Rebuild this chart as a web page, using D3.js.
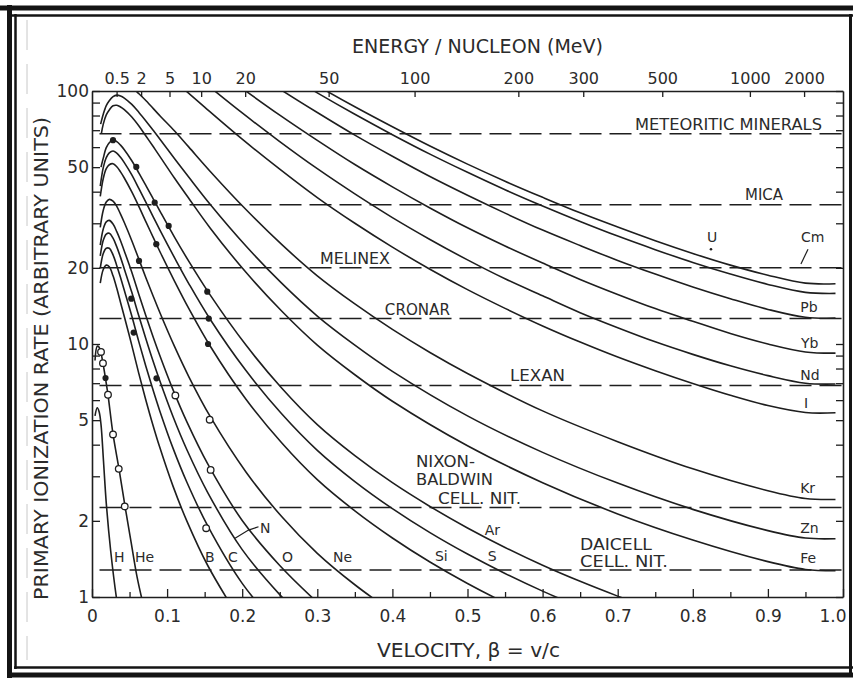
<!DOCTYPE html>
<html>
<head>
<meta charset="utf-8">
<script src="https://cdnjs.cloudflare.com/ajax/libs/d3/7.8.5/d3.min.js"></script>
<style>
html,body{margin:0;padding:0;background:#fff;}
svg{display:block;}
text{font-family:"DejaVu Sans","Liberation Sans",sans-serif;fill:#2b2b2b;}
</style>
</head>
<body>
<svg id="chart" width="853" height="680"></svg>
<script>
// ---------------- DATA ----------------
const velocityTicks = [0,0.1,0.2,0.3,0.4,0.5,0.6,0.7,0.8,0.9,1.0];
const velocityMinorTicks = [0.05,0.15,0.25,0.35,0.45,0.55,0.65,0.75,0.85,0.95];
const energyTicks = [0.5,2,5,10,20,50,100,200,300,500,1000,2000];   // MeV / nucleon
const rateTicks = [1,2,3,4,5,6,7,8,9,10,20,30,40,50,60,70,80,90,100];
const rateTickLabels = [1,2,5,10,20,50,100];

const ionNames = ["H","He","B","C","N","O","Ne","Si","S","Ar","Fe","Zn","Kr","I","Nd","Yb","Pb","U","Cm"];

// [beta, primary ionization rate]
const rateH  = [[0.004,5.2],[0.007,5.6],[0.0095,5.4],[0.012,4.8],[0.0153,3.45],[0.019,2.35],[0.0249,1.52],[0.0324,1.0],[0.036,0.86]];
const rateHe = [[0.004,8.6],[0.007,9.8],[0.0095,9.7],[0.012,9.2],[0.0146,8.4],[0.018,7.3],[0.0213,6.3],[0.028,4.4],[0.036,3.2],[0.044,2.28],[0.052,1.65],[0.06,1.2],[0.0665,0.98],[0.072,0.84]];
const rateB  = [[0.011,17.4],[0.015,19.7],[0.019,20.5],[0.023,20.2],[0.028,18.6],[0.033,16.6],[0.038,14.6],[0.043,12.85],[0.053,9.88],[0.0622,7.67],[0.0714,6.05],[0.0806,4.84],[0.0898,3.94],[0.1081,2.73],[0.1265,1.99],[0.1541,1.332],[0.2,0.787]];
const rateC  = [[0.011,19.9],[0.015,22.8],[0.019,23.9],[0.023,23.9],[0.028,22.5],[0.033,20.4],[0.038,18.3],[0.043,16.3],[0.053,12.9],[0.0622,10.24],[0.0714,8.22],[0.0806,6.68],[0.0898,5.49],[0.1081,3.86],[0.1265,2.835],[0.1541,1.91],[0.2,1.132],[0.25,0.751]];
const rateN  = [[0.011,22.3],[0.015,25.7],[0.019,27.2],[0.023,27.4],[0.028,26.2],[0.033,24.2],[0.038,22.0],[0.043,19.8],[0.053,16.0],[0.0622,12.95],[0.0714,10.56],[0.0806,8.68],[0.0898,7.22],[0.1081,5.145],[0.1265,3.81],[0.1541,2.587],[0.2,1.539],[0.25,1.022],[0.3,0.729]];
const rateO  = [[0.011,24.6],[0.015,28.5],[0.019,30.4],[0.023,30.8],[0.028,29.8],[0.033,27.8],[0.038,25.6],[0.043,23.3],[0.053,19.2],[0.0622,15.77],[0.0714,13.02],[0.0806,10.83],[0.0898,9.09],[0.1081,6.57],[0.1265,4.91],[0.1541,3.357],[0.2,2.007],[0.25,1.332],[0.3,0.952]];
const rateNe = [[0.011,28.9],[0.015,33.8],[0.019,36.4],[0.023,37.3],[0.028,36.7],[0.033,35.0],[0.038,32.6],[0.043,30.2],[0.053,25.6],[0.0625,21.6],[0.072,18.2],[0.0815,15.45],[0.091,13.17],[0.11,9.76],[0.129,7.42],[0.1575,5.16],[0.205,3.12],[0.2525,2.08],[0.3,1.488],[0.35,1.118],[0.4,0.873]];
const rateSi = [[0.011,38.3],[0.015,45.1],[0.019,49.3],[0.023,51.1],[0.028,51.6],[0.033,50.2],[0.038,47.9],[0.043,45.3],[0.053,39.9],[0.0625,34.9],[0.072,30.3],[0.0815,26.4],[0.091,23.0],[0.11,17.7],[0.129,13.8],[0.1575,9.8],[0.205,6.05],[0.2525,4.07],[0.3,2.91],[0.35,2.19],[0.4,1.711],[0.45,1.375],[0.5,1.131],[0.55,0.9485],[0.6,0.808]];
const rateS  = [[0.011,42.1],[0.015,49.8],[0.019,54.5],[0.023,56.9],[0.028,57.9],[0.033,56.8],[0.038,54.7],[0.043,52.1],[0.053,46.6],[0.0625,41.1],[0.072,36.2],[0.0815,31.8],[0.091,28.0],[0.11,21.9],[0.129,17.3],[0.1575,12.5],[0.205,7.85],[0.2525,5.3],[0.3,3.8],[0.35,2.86],[0.4,2.235],[0.45,1.796],[0.5,1.478],[0.55,1.239],[0.6,1.055],[0.65,0.911]];
const rateAr = [[0.012,50.0],[0.015,54.3],[0.019,59.7],[0.023,62.4],[0.028,64.0],[0.033,63.1],[0.038,61.1],[0.043,58.6],[0.053,53.0],[0.0625,47.4],[0.072,42.2],[0.0815,37.5],[0.091,33.3],[0.11,26.4],[0.129,21.2],[0.1575,15.6],[0.205,9.9],[0.2525,6.7],[0.3,4.8],[0.35,3.62],[0.4,2.83],[0.45,2.28],[0.5,1.875],[0.55,1.57],[0.6,1.335],[0.65,1.153],[0.7,1.008],[0.75,0.89]];
const rateFe = [[0.0125,68.0],[0.015,74.0],[0.019,80.5],[0.023,84.2],[0.028,87.4],[0.033,87.8],[0.038,86.5],[0.043,84.4],[0.053,78.9],[0.0625,72.7],[0.072,66.2],[0.0815,60.3],[0.091,54.8],[0.11,45.2],[0.129,37.6],[0.1575,28.7],[0.205,19.2],[0.2525,13.5],[0.3,9.9],[0.35,7.56],[0.4,5.94],[0.5,3.96],[0.6,2.83],[0.7,2.13],[0.8,1.68],[0.9,1.38],[0.95,1.285],[0.99,1.27]];
const rateZn = [[0.0115,74.0],[0.015,81.0],[0.019,87.5],[0.023,91.5],[0.028,95.0],[0.033,96.3],[0.038,95.6],[0.043,93.8],[0.053,88.5],[0.0625,82.3],[0.072,76.0],[0.0815,69.9],[0.091,64.2],[0.11,54.0],[0.129,45.6],[0.1575,35.6],[0.205,24.4],[0.2525,17.4],[0.3,12.9],[0.35,9.9],[0.4,7.8],[0.5,5.2],[0.6,3.73],[0.7,2.82],[0.8,2.22],[0.9,1.83],[0.95,1.71],[0.99,1.70]];
const rateKr = [[0.043,108],[0.053,103.3],[0.0625,97.5],[0.072,91.5],[0.091,79.5],[0.11,69.5],[0.129,60.0],[0.1575,48.1],[0.205,34.0],[0.2525,24.75],[0.3,18.6],[0.35,14.4],[0.4,11.42],[0.45,9.26],[0.5,7.65],[0.6,5.44],[0.7,4.11],[0.8,3.21],[0.9,2.63],[0.95,2.45],[0.99,2.43]];
const rateI  = [[0.08,130.4],[0.1,116.1],[0.12,103.2],[0.15,86.3],[0.2,64.5],[0.25,49.1],[0.3,37.9],[0.35,30.0],[0.4,24.15],[0.45,19.75],[0.5,16.4],[0.55,13.83],[0.6,11.79],[0.65,10.18],[0.7,8.88],[0.75,7.84],[0.8,6.98],[0.85,6.27],[0.9,5.71],[0.95,5.36],[0.99,5.35]];
const rateNd = [[0.1,142],[0.12,127.8],[0.15,107.8],[0.2,81.9],[0.25,63.1],[0.3,49.3],[0.35,39.2],[0.4,31.6],[0.45,25.9],[0.5,21.5],[0.55,18.1],[0.6,15.5],[0.65,13.3],[0.7,11.6],[0.75,10.2],[0.8,9.1],[0.85,8.2],[0.9,7.5],[0.95,7.0],[0.99,6.95]];
const rateYb = [[0.15,131.6],[0.2,102.4],[0.25,80.3],[0.3,63.8],[0.35,51.2],[0.4,41.8],[0.45,34.5],[0.5,28.8],[0.55,24.4],[0.6,20.9],[0.65,18.0],[0.7,15.7],[0.75,13.8],[0.8,12.3],[0.85,11.0],[0.9,10.0],[0.95,9.3],[0.99,9.2]];
const ratePb = [[0.2,127.5],[0.25,101.8],[0.3,82.2],[0.35,66.9],[0.4,55.2],[0.45,45.9],[0.5,38.7],[0.55,32.9],[0.6,28.2],[0.65,24.5],[0.7,21.4],[0.75,18.9],[0.8,16.8],[0.85,15.1],[0.9,13.7],[0.95,12.75],[0.99,12.65]];
const rateU  = [[0.25,120.5],[0.3,98.3],[0.35,80.9],[0.4,67.2],[0.45,56.3],[0.5,47.7],[0.55,40.7],[0.6,35.1],[0.65,30.5],[0.7,26.7],[0.75,23.6],[0.8,21.0],[0.85,18.9],[0.9,17.2],[0.95,16.0],[0.99,15.85]];
const rateCm = [[0.25,128.1],[0.3,104.9],[0.35,86.6],[0.4,72.2],[0.45,60.6],[0.5,51.4],[0.55,44.0],[0.6,38.0],[0.65,33.0],[0.7,29.0],[0.75,25.6],[0.8,22.8],[0.85,20.5],[0.9,18.7],[0.95,17.4],[0.99,17.3]];

// experimental points [beta, rate]
const filledPoints = [[0.028,63.9],[0.059,50.1],[0.0835,36.2],[0.1021,29.3],[0.0856,24.8],[0.0626,21.3],[0.1535,16.1],[0.1554,12.6],[0.0523,15.1],[0.0555,11.1],[0.1545,10.0],[0.0859,7.32],[0.018,7.34]];
const openPoints = [[0.012,9.3],[0.0146,8.4],[0.0213,6.3],[0.028,4.39],[0.0356,3.21],[0.0436,2.28],[0.111,6.26],[0.1567,5.02],[0.158,3.18],[0.152,1.87]];

// detector thresholds
const thresholdNames = ["METEORITIC MINERALS","MICA","MELINEX","CRONAR","LEXAN","NIXON-BALDWIN CELL. NIT.","DAICELL CELL. NIT."];
const thresholdRates = [67.8,35.5,20,12.6,6.86,2.26,1.28];

// ---------------- DRAWING ----------------
const curves = {H:rateH,He:rateHe,B:rateB,C:rateC,N:rateN,O:rateO,Ne:rateNe,Si:rateSi,S:rateS,Ar:rateAr,
  Fe:rateFe,Zn:rateZn,Kr:rateKr,I:rateI,Nd:rateNd,Yb:rateYb,Pb:ratePb,U:rateU,Cm:rateCm};

const svg = d3.select("#chart");
const ink = "#1e1e1e";
const textInk = "#2b2b2b";
const x = d3.scaleLinear().domain([0,1]).range([92,843]);
const y = d3.scaleLog().domain([1,100]).range([597,91]);
const betaFromEnergy = T => { const g = 1 + T/931.5; return Math.sqrt(1 - 1/(g*g)); };

svg.append("rect").attr("width",853).attr("height",680).attr("fill","#fff");

// scanned-page double frame
const frame = svg.append("g").attr("stroke","#141414").attr("fill","none");
frame.append("line").attr("x1",0).attr("x2",853).attr("y1",8).attr("y2",8).attr("stroke-width",5);
frame.append("line").attr("x1",12).attr("x2",853).attr("y1",15.5).attr("y2",15.5).attr("stroke-width",2.5);
frame.append("line").attr("x1",9.5).attr("x2",9.5).attr("y1",5).attr("y2",678).attr("stroke-width",5);
frame.append("line").attr("x1",15.5).attr("x2",15.5).attr("y1",14).attr("y2",669).attr("stroke-width",2.5);
frame.append("line").attr("x1",7).attr("x2",853).attr("y1",675).attr("y2",675).attr("stroke-width",5);
frame.append("line").attr("x1",14).attr("x2",853).attr("y1",667.5).attr("y2",667.5).attr("stroke-width",2.5);
frame.append("line").attr("x1",850.5).attr("x2",850.5).attr("y1",14).attr("y2",675).attr("stroke-width",3);
svg.append("line").attr("x1",27).attr("x2",27).attr("y1",20).attr("y2",660)
  .attr("stroke","#c8c8c8").attr("stroke-width",1).attr("stroke-dasharray","30,14");

function styleAxis(g, fs){
  g.attr("font-size",fs).attr("font-family",null);
  g.selectAll("path.domain").attr("stroke",ink).attr("stroke-width",1.6);
  g.selectAll(".tick line").attr("stroke",ink).attr("stroke-width",1.3);
  g.selectAll(".tick text").attr("fill",textInk);
}

// bottom axis
const gx = svg.append("g").attr("transform","translate(0,597)")
  .call(d3.axisBottom(x).tickValues(velocityTicks)
    .tickFormat(d => d === 0 ? "0" : d.toFixed(1))
    .tickSizeInner(-8).tickSizeOuter(0).tickPadding(13));
styleAxis(gx,17);
// keep the last label ("1.0") inside the page, just left of the frame line
gx.selectAll(".tick text").filter(d => d === 1).attr("text-anchor","end").attr("dx","3");
const gx2 = svg.append("g").attr("transform","translate(0,597)")
  .call(d3.axisBottom(x).tickValues(velocityMinorTicks).tickFormat("").tickSizeInner(-5).tickSizeOuter(0));
styleAxis(gx2,10); gx2.select("path.domain").remove();

// top axis: energy per nucleon
const gt = svg.append("g").attr("transform","translate(0,91)")
  .call(d3.axisTop(x).tickValues(energyTicks.map(betaFromEnergy))
    .tickFormat((d,i) => String(energyTicks[i]))
    .tickSizeInner(-6).tickSizeOuter(0).tickPadding(7));
styleAxis(gt,16);

// left axis
const gy = svg.append("g").attr("transform","translate(92,0)")
  .call(d3.axisLeft(y).tickValues(rateTicks)
    .tickFormat(d => rateTickLabels.includes(d) ? String(d) : "")
    .tickSizeInner(-8).tickSizeOuter(0).tickPadding(3));
styleAxis(gy,17);

// right axis
const gr = svg.append("g").attr("transform","translate(843,0)")
  .call(d3.axisRight(y).tickValues(rateTicks).tickFormat("").tickSizeInner(-7).tickSizeOuter(0));
styleAxis(gr,10);

// clip
svg.append("clipPath").attr("id","plotclip").append("rect")
  .attr("x",x(0)).attr("y",y(100)).attr("width",x(1)-x(0)).attr("height",y(1)-y(100));
const plot = svg.append("g").attr("clip-path","url(#plotclip)");

// threshold dashed lines
plot.selectAll("line.thr").data(thresholdRates).join("line").attr("class","thr")
  .attr("x1",x(0.01)).attr("x2",x(1)).attr("y1",d=>y(d)).attr("y2",d=>y(d))
  .attr("stroke",ink).attr("stroke-width",1.5).attr("stroke-dasharray","22,8");

// ion curves
const line = d3.line().x(d=>x(d[0])).y(d=>y(d[1])).curve(d3.curveCatmullRom.alpha(0.5));
plot.selectAll("path.ion").data(ionNames).join("path").attr("class","ion")
  .attr("d", n => line(curves[n]))
  .attr("fill","none").attr("stroke",ink).attr("stroke-width",1.6);

// experimental points
plot.selectAll("circle.f").data(filledPoints).join("circle").attr("class","f")
  .attr("cx",d=>x(d[0])).attr("cy",d=>y(d[1])).attr("r",3.1).attr("fill",ink);
plot.selectAll("circle.o").data(openPoints).join("circle").attr("class","o")
  .attr("cx",d=>x(d[0])).attr("cy",d=>y(d[1])).attr("r",3.3)
  .attr("fill","#fff").attr("stroke",ink).attr("stroke-width",1.3);

// threshold labels (layout in data coordinates)
const thrLayout = [
  {lines:["METEORITIC MINERALS"], bx:[0.723], dy:[-4], len:[187]},
  {lines:["MICA"], bx:[0.8695], dy:[-5], len:[38]},
  {lines:["MELINEX"], bx:[0.3036], dy:[-4], len:[70]},
  {lines:["CRONAR"], bx:[0.390], dy:[-4], len:[65]},
  {lines:["LEXAN"], bx:[0.5566], dy:[-4], len:[55]},
  {lines:["NIXON-","BALDWIN","CELL. NIT."], bx:[0.4314,0.4314,0.4607], dy:[-40,-22,-3], len:[59,77,83]},
  {lines:["DAICELL","CELL. NIT."], bx:[0.6498,0.6498], dy:[-20,-3], len:[72,88]}
];
thrLayout.forEach((L,i) => {
  L.lines.forEach((t,j) => {
    svg.append("text").attr("x",x(L.bx[j])).attr("y",y(thresholdRates[i]) + L.dy[j])
      .attr("font-size",15).attr("fill",textInk)
      .attr("textLength",L.len[j]).attr("lengthAdjust","spacingAndGlyphs")
      .text(t);
  });
});

// ion labels
const ionLabelPos = {Cm:[0.944,25.3],U:[0.819,25.3],Pb:[0.943,13.4],Yb:[0.944,9.65],Nd:[0.943,7.2],I:[0.948,5.58],
  Kr:[0.943,2.58],Zn:[0.943,1.79],Fe:[0.943,1.36],H:[0.0293,1.375],He:[0.0573,1.375],B:[0.1505,1.375],
  C:[0.181,1.375],O:[0.253,1.375],Ne:[0.321,1.375],N:[0.2237,1.79],Si:[0.4567,1.388],S:[0.527,1.388],Ar:[0.523,1.758]};
svg.selectAll("text.ion").data(ionNames).join("text").attr("class","ion")
  .attr("x",n=>x(ionLabelPos[n][0])).attr("y",n=>y(ionLabelPos[n][1]))
  .attr("font-size",14).attr("fill",textInk).text(n=>n);

// pointers
const pointer = d3.line().x(d=>x(d[0])).y(d=>y(d[1]));
svg.append("path").attr("d",pointer([[0.2217,1.895],[0.2084,1.839],[0.1905,1.706]]))
  .attr("fill","none").attr("stroke",ink).attr("stroke-width",1.2);
svg.append("path").attr("d",pointer([[0.9534,23.7],[0.944,20.7]]))
  .attr("fill","none").attr("stroke",ink).attr("stroke-width",1.2);
svg.append("circle").attr("cx",x(0.8242)).attr("cy",y(23.7)).attr("r",1.3).attr("fill",ink);

// axis titles
svg.append("text").attr("x",352).attr("y",53).attr("font-size",19).attr("fill",textInk)
  .attr("textLength",251).attr("lengthAdjust","spacingAndGlyphs").text("ENERGY / NUCLEON (MeV)");
svg.append("text").attr("x",377).attr("y",657).attr("font-size",19).attr("fill",textInk)
  .attr("textLength",183).attr("lengthAdjust","spacingAndGlyphs").text("VELOCITY,  β = v/c");
svg.append("text").attr("transform","translate(48,600) rotate(-90)").attr("font-size",19).attr("fill",textInk)
  .attr("textLength",483).attr("lengthAdjust","spacingAndGlyphs")
  .text("PRIMARY IONIZATION RATE (ARBITRARY UNITS)");
</script>
</body>
</html>
